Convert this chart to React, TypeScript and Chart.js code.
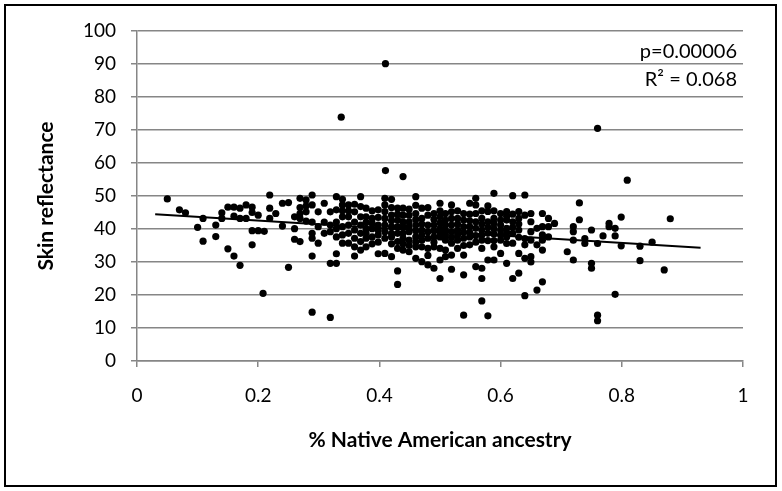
import React, { useEffect, useRef } from 'react';
import { Chart, registerables } from 'chart.js';

Chart.register(...registerables);

type Pt = [number, number];

// [ancestry fraction, skin reflectance]
const samples005to021: Pt[] = [
  [0.050, 49.1], [0.070, 45.8], [0.080, 44.9], [0.100, 40.5], [0.109, 43.2], [0.109, 36.3],
  [0.130, 41.2], [0.130, 37.7], [0.140, 44.9], [0.140, 43.2], [0.150, 46.6], [0.150, 34.0],
  [0.160, 46.6], [0.170, 46.3], [0.160, 43.9], [0.170, 43.2], [0.160, 31.8], [0.170, 29.0],
  [0.180, 47.3], [0.180, 43.2], [0.190, 46.6], [0.190, 45.0], [0.200, 44.2], [0.190, 39.5],
  [0.200, 39.5], [0.210, 39.3], [0.190, 35.2], [0.208, 20.5],
];

const samples021to033: Pt[] = [
  [0.219, 50.3], [0.219, 46.3], [0.219, 43.2], [0.229, 44.7], [0.240, 47.8], [0.250, 48.0],
  [0.240, 40.9], [0.250, 28.4], [0.260, 43.7], [0.260, 40.1], [0.260, 36.9], [0.269, 36.2],
  [0.269, 49.3], [0.279, 48.8], [0.289, 50.3], [0.269, 46.5], [0.279, 47.0], [0.269, 44.7],
  [0.279, 45.2], [0.269, 43.2], [0.279, 42.4], [0.289, 47.3], [0.289, 42.1], [0.289, 38.7],
  [0.289, 37.2], [0.289, 31.8], [0.289, 14.8], [0.299, 45.2], [0.299, 40.7], [0.299, 35.7],
  [0.309, 47.8], [0.309, 42.1], [0.309, 38.7], [0.319, 45.2], [0.319, 41.2], [0.319, 39.2],
  [0.319, 29.6], [0.319, 13.2], [0.329, 49.8], [0.329, 45.8], [0.329, 42.1], [0.329, 40.1],
  [0.329, 37.6], [0.329, 32.5], [0.329, 29.6],
];

const samples033to040: Pt[] = [
  [0.339, 49.0], [0.339, 47.3], [0.339, 45.5], [0.339, 43.7], [0.339, 40.7], [0.339, 38.2], [0.339, 35.7],
  [0.349, 47.3], [0.349, 45.5], [0.349, 43.7], [0.349, 41.2], [0.349, 38.7], [0.349, 35.7],
  [0.359, 47.5], [0.359, 45.2], [0.359, 42.1], [0.359, 39.7], [0.359, 37.2], [0.359, 34.6], [0.359, 31.8],
  [0.369, 49.8], [0.369, 46.8], [0.369, 43.7], [0.369, 41.2], [0.369, 38.7], [0.369, 36.2], [0.369, 33.6],
  [0.378, 46.3], [0.378, 43.7], [0.378, 42.0], [0.378, 40.1], [0.378, 38.7], [0.378, 37.2], [0.378, 34.6],
  [0.388, 45.5], [0.388, 43.2], [0.388, 41.7], [0.388, 40.1], [0.388, 37.6], [0.388, 35.5],
  [0.398, 45.8], [0.398, 43.5], [0.398, 41.2], [0.398, 39.7], [0.398, 38.2], [0.398, 36.0], [0.398, 32.5],
];

const samples040to050: Pt[] = [
  [0.409, 49.3], [0.409, 47.3], [0.409, 45.3], [0.409, 43.2], [0.409, 41.2], [0.409, 39.2], [0.409, 37.2], [0.409, 32.6], [0.410, 57.7],
  [0.420, 49.0], [0.420, 46.5], [0.420, 44.2], [0.420, 42.5], [0.420, 40.7], [0.420, 38.7], [0.420, 37.6], [0.420, 35.5], [0.420, 31.6],
  [0.430, 46.3], [0.430, 44.5], [0.430, 42.7], [0.430, 40.7], [0.430, 38.7], [0.430, 36.2], [0.430, 34.1], [0.430, 27.3], [0.430, 23.2],
  [0.439, 55.9], [0.439, 46.3], [0.439, 44.2], [0.439, 42.2], [0.439, 40.7], [0.439, 38.7], [0.439, 37.2], [0.439, 35.5], [0.439, 33.6],
  [0.449, 46.0], [0.449, 44.2], [0.449, 42.2], [0.449, 40.7], [0.449, 39.2], [0.449, 36.6], [0.449, 35.0], [0.449, 33.1],
  [0.460, 49.8], [0.460, 47.2], [0.460, 44.7], [0.460, 42.9], [0.460, 41.2], [0.460, 39.5], [0.460, 37.6], [0.460, 36.0], [0.460, 34.6], [0.460, 31.1],
  [0.470, 46.3], [0.470, 43.2], [0.470, 41.5], [0.470, 39.7], [0.470, 38.2], [0.470, 36.6], [0.470, 34.6], [0.470, 30.1],
  [0.480, 46.5], [0.480, 44.2], [0.480, 41.2], [0.480, 39.2], [0.480, 37.2], [0.480, 34.1], [0.480, 32.0], [0.480, 29.1],
  [0.490, 44.7], [0.490, 42.9], [0.490, 41.2], [0.490, 39.5], [0.490, 37.6], [0.490, 36.0], [0.490, 34.6], [0.490, 28.1],
];

const samples050to060: Pt[] = [
  [0.500, 47.8], [0.500, 45.5], [0.500, 43.7], [0.500, 41.9], [0.500, 40.1], [0.500, 38.8], [0.500, 37.6], [0.500, 34.1], [0.500, 30.6], [0.500, 25.0],
  [0.509, 44.7], [0.509, 42.7], [0.509, 41.2], [0.509, 39.7], [0.509, 38.2], [0.509, 36.6], [0.509, 33.6], [0.509, 31.6],
  [0.519, 47.3], [0.519, 45.2], [0.519, 43.2], [0.519, 41.2], [0.519, 39.2], [0.519, 37.5], [0.519, 35.7], [0.519, 32.1], [0.519, 27.8],
  [0.529, 45.5], [0.529, 43.2], [0.529, 41.5], [0.529, 39.7], [0.529, 38.2], [0.529, 36.6], [0.529, 34.1],
  [0.539, 44.7], [0.539, 42.7], [0.539, 40.7], [0.539, 39.0], [0.539, 37.2], [0.539, 35.0], [0.539, 32.1], [0.539, 26.1], [0.539, 13.9],
  [0.549, 47.8], [0.549, 44.5], [0.549, 42.5], [0.549, 40.7], [0.549, 39.0], [0.549, 37.6], [0.549, 35.2],
  [0.559, 49.3], [0.559, 47.3], [0.559, 44.7], [0.559, 42.2], [0.559, 40.2], [0.559, 38.0], [0.559, 36.0], [0.559, 28.6],
  [0.569, 45.5], [0.569, 43.2], [0.569, 41.5], [0.569, 39.7], [0.569, 38.2], [0.569, 36.6], [0.569, 34.1], [0.569, 28.1], [0.569, 25.0], [0.569, 18.2],
  [0.579, 47.0], [0.579, 45.3], [0.579, 42.2], [0.579, 40.5], [0.579, 38.7], [0.579, 36.5], [0.579, 30.6], [0.579, 13.7],
  [0.589, 50.8], [0.589, 45.5], [0.589, 43.2], [0.589, 41.7], [0.589, 40.1], [0.589, 38.5], [0.589, 36.5], [0.589, 34.6], [0.589, 30.6],
];

const samples060to070: Pt[] = [
  [0.600, 44.7], [0.600, 42.7], [0.600, 41.2], [0.600, 39.7], [0.600, 38.2], [0.600, 36.6], [0.600, 32.6],
  [0.610, 45.3], [0.610, 43.9], [0.610, 42.7], [0.610, 40.2], [0.610, 38.9], [0.610, 37.6], [0.610, 35.6], [0.610, 29.6],
  [0.620, 50.1], [0.620, 44.5], [0.620, 42.2], [0.620, 40.5], [0.620, 38.7], [0.620, 35.7], [0.620, 25.0],
  [0.630, 45.3], [0.630, 43.2], [0.630, 41.5], [0.630, 39.7], [0.630, 37.5], [0.630, 32.6], [0.630, 26.6],
  [0.640, 50.3], [0.640, 44.2], [0.640, 37.1], [0.640, 35.2], [0.640, 31.1], [0.640, 19.8],
  [0.650, 44.7], [0.650, 42.2], [0.650, 39.2], [0.650, 36.6], [0.650, 31.6], [0.650, 30.0],
  [0.660, 40.2], [0.660, 35.2], [0.660, 21.5],
  [0.669, 44.7], [0.669, 40.7], [0.669, 38.2], [0.669, 36.6], [0.669, 33.6], [0.669, 24.0],
  [0.679, 43.2], [0.679, 40.7], [0.679, 37.6],
  [0.689, 41.7],
];

const samples070to090: Pt[] = [
  [0.710, 33.1], [0.720, 40.7], [0.720, 39.2], [0.720, 36.6], [0.720, 30.6], [0.730, 47.9],
  [0.730, 42.8], [0.739, 37.1], [0.739, 35.6], [0.750, 39.7], [0.750, 29.6], [0.750, 28.1],
  [0.760, 35.6], [0.760, 13.9], [0.760, 12.2], [0.769, 37.9], [0.779, 41.7], [0.779, 40.7],
  [0.789, 40.2], [0.789, 37.9], [0.789, 20.2], [0.799, 43.6], [0.799, 34.9], [0.809, 54.8],
  [0.830, 34.8], [0.830, 30.4], [0.850, 36.0], [0.870, 27.6], [0.880, 43.1],
];

const outliers: Pt[] = [
  [0.410, 90.1], [0.337, 73.9], [0.760, 70.5],
];

// Linear trend line (end points)
const trendAncestry = [0.03, 0.93];
const trendReflectance = [44.5, 34.3];

const xTickValues = [0, 0.2, 0.4, 0.6, 0.8, 1];
const xTickLabels = ['0', '0.2', '0.4', '0.6', '0.8', '1'];
const yTickValues = [0, 10, 20, 30, 40, 50, 60, 70, 80, 90, 100];
const yTickLabels = ['0', '10', '20', '30', '40', '50', '60', '70', '80', '90', '100'];

const xTitle = '% Native American ancestry';
const yTitle = 'Skin reflectance';
const statLines = ['p=0.00006', 'R\u00b2 = 0.068'];

const FONT = 'Lato, "Open Sans", sans-serif';
const GRID = '#868686';

const allSamples: Pt[] = [
  ...samples005to021, ...samples021to033, ...samples033to040, ...samples040to050,
  ...samples050to060, ...samples060to070, ...samples070to090, ...outliers,
];

const framePlugin = {
  id: 'frameAndStats',
  afterDraw(chart: any) {
    const { ctx, chartArea } = chart;
    ctx.save();
    ctx.strokeStyle = '#000';
    ctx.lineWidth = 2;
    ctx.strokeRect(5, 5, 771, 481);
    ctx.fillStyle = '#000';
    ctx.font = `20px ${FONT}`;
    ctx.textAlign = 'right';
    ctx.textBaseline = 'middle';
    statLines.forEach((t, i) => {
      ctx.fillText(t, chartArea.right - 6, 52 + i * 28);
    });
    ctx.restore();
  },
};

export default function App() {
  const ref = useRef<HTMLCanvasElement | null>(null);

  useEffect(() => {
    if (!ref.current) return;
    const chart = new Chart(ref.current, {
      type: 'scatter',
      data: {
        datasets: [
          {
            label: 'trend',
            data: trendAncestry.map((x, i) => ({ x, y: trendReflectance[i] })),
            showLine: true,
            borderColor: '#000',
            borderWidth: 2,
            pointRadius: 0,
            order: 0,
          } as any,
          {
            label: 'samples',
            data: allSamples.map(([x, y]) => ({ x, y })),
            pointRadius: 3.6,
            pointBackgroundColor: '#000',
            backgroundColor: '#000',
            pointBorderWidth: 0,
            borderWidth: 0,
            order: 1,
          } as any,
        ],
      },
      options: {
        responsive: false,
        animation: false,
        devicePixelRatio: 1,
        layout: { padding: { top: 31, right: 39, left: 0, bottom: 0 } },
        plugins: {
          legend: { display: false },
          tooltip: { enabled: false },
        },
        scales: {
          x: {
            type: 'linear',
            min: 0,
            max: 1,
            afterBuildTicks: (s: any) => {
              s.ticks = xTickValues.map((v) => ({ value: v }));
            },
            afterFit: (s: any) => {
              s.height = 130;
            },
            ticks: {
              callback: (_v: any, i: number) => xTickLabels[i],
              font: { family: FONT, size: 19 },
              color: '#000',
              padding: 17,
              maxRotation: 0,
              autoSkip: false,
            },
            grid: {
              drawOnChartArea: false,
              drawTicks: true,
              tickLength: 6,
              color: GRID,
              lineWidth: 1.5,
            },
            border: { color: GRID, width: 1.5 },
            title: {
              display: true,
              text: xTitle,
              color: '#000',
              font: { family: FONT, size: 21, weight: 'bold' },
              padding: { top: 0, bottom: 38 },
            },
          },
          y: {
            type: 'linear',
            min: 0,
            max: 100,
            afterBuildTicks: (s: any) => {
              s.ticks = yTickValues.map((v) => ({ value: v }));
            },
            afterFit: (s: any) => {
              s.width = 137;
            },
            ticks: {
              callback: (_v: any, i: number) => yTickLabels[i],
              font: { family: FONT, size: 19 },
              color: '#000',
              padding: 15,
              autoSkip: false,
            },
            grid: {
              drawTicks: true,
              tickLength: 6,
              color: GRID,
              lineWidth: 1.5,
            },
            border: { color: GRID, width: 1.5 },
            title: {
              display: true,
              text: yTitle,
              color: '#000',
              font: { family: FONT, size: 21, weight: 'bold' },
              padding: { top: 34, bottom: 0 },
            },
          },
        },
      } as any,
      plugins: [framePlugin],
    });
    return () => chart.destroy();
  }, []);

  return (
    <div style={{ position: 'fixed', left: 0, top: 0, width: 782, height: 491, background: '#fff' }}>
      <canvas ref={ref} width={782} height={491} style={{ display: 'block', width: 782, height: 491 }} />
    </div>
  );
}
